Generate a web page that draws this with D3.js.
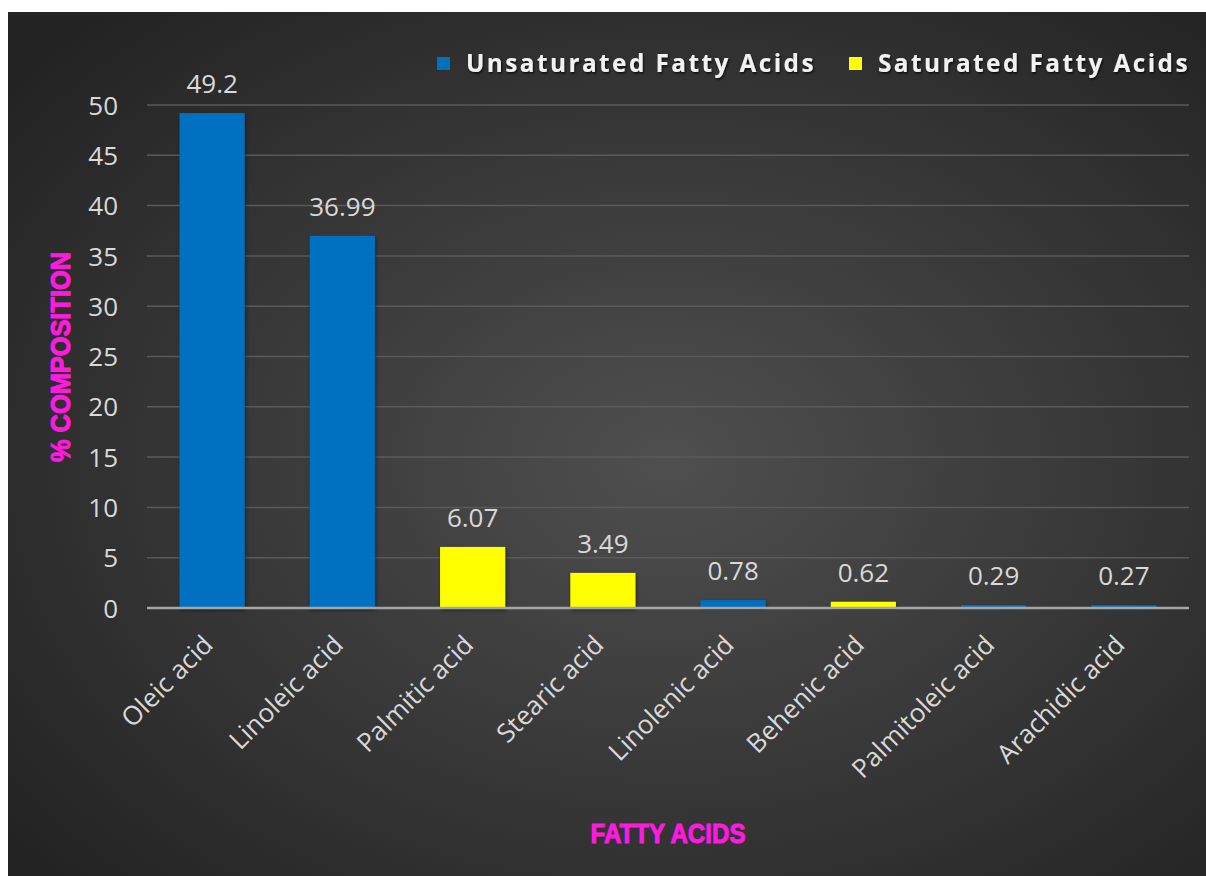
<!DOCTYPE html>
<html>
<head>
<meta charset="utf-8">
<script src="https://cdn.jsdelivr.net/npm/d3@7"></script>
<style>
  html, body { margin: 0; padding: 0; background: #ffffff; }
  svg { display: block; }
</style>
</head>
<body>
<div id="chart"></div>
<script>
// Fatty acid composition (% of total)
const categories = ["Oleic acid", "Linoleic acid", "Palmitic acid", "Stearic acid",
                    "Linolenic acid", "Behenic acid", "Palmitoleic acid", "Arachidic acid"];
const values = [49.2, 36.99, 6.07, 3.49, 0.78, 0.62, 0.29, 0.27];
const groups = ["Unsaturated", "Unsaturated", "Saturated", "Saturated",
                "Unsaturated", "Saturated", "Unsaturated", "Unsaturated"];
const seriesNames = ["Unsaturated", "Saturated"];
const legendLabels = ["Unsaturated Fatty Acids", "Saturated Fatty Acids"];
const yTicks = [0, 5, 10, 15, 20, 25, 30, 35, 40, 45, 50];

const W = 1206, H = 876;
const plot = { left: 147, right: 1189, top: 105, bottom: 608 };
const FONT = "'Open Sans', sans-serif";

const svg = d3.select("#chart").append("svg")
  .attr("width", W).attr("height", H);

const defs = svg.append("defs");
const bg = defs.append("radialGradient").attr("id", "bgGrad")
  .attr("cx", "55%").attr("cy", "52%").attr("r", "70%");
bg.append("stop").attr("offset", "0%").attr("stop-color", "#4f4f4f");
bg.append("stop").attr("offset", "100%").attr("stop-color", "#232323");

const shadow = defs.append("filter").attr("id", "barShadow")
  .attr("x", "-20%").attr("y", "-20%").attr("width", "140%").attr("height", "140%");
shadow.append("feDropShadow").attr("dx", 1).attr("dy", 2).attr("stdDeviation", 2)
  .attr("flood-color", "#000").attr("flood-opacity", 0.45);

const txtShadow = defs.append("filter").attr("id", "textShadow")
  .attr("x", "-10%").attr("y", "-30%").attr("width", "120%").attr("height", "160%");
txtShadow.append("feDropShadow").attr("dx", 1).attr("dy", 1.5).attr("stdDeviation", 1.2)
  .attr("flood-color", "#000").attr("flood-opacity", 0.8);

// chart area
svg.append("rect").attr("x", 8).attr("y", 12)
  .attr("width", W - 8).attr("height", H - 12)
  .attr("fill", "url(#bgGrad)");

const x = d3.scaleBand().domain(categories)
  .range([plot.left, plot.right]).paddingInner(0.5).paddingOuter(0.25);
const y = d3.scaleLinear().domain([0, 50]).range([plot.bottom, plot.top]);
const color = d3.scaleOrdinal().domain(seriesNames).range(["#0070c0", "#ffff00"]);

// gridlines
svg.append("g").selectAll("line").data(yTicks.filter(t => t > 0)).join("line")
  .attr("x1", plot.left).attr("x2", plot.right)
  .attr("y1", d => y(d)).attr("y2", d => y(d))
  .attr("stroke", "#5a5a5a").attr("stroke-width", 1.5);

// y axis tick labels
const yAxis = d3.axisLeft(y).tickValues(yTicks).tickSize(0).tickPadding(0);
const yg = svg.append("g").attr("transform", `translate(118,0)`).call(yAxis);
yg.select(".domain").remove();
yg.selectAll("text")
  .attr("font-family", FONT)
  .attr("font-size", 26).attr("fill", "#d9d9d9").attr("dy", "0.35em");

// bars
svg.append("g").selectAll("rect").data(categories).join("rect")
  .attr("x", d => x(d))
  .attr("y", (d, i) => y(values[i]))
  .attr("width", x.bandwidth())
  .attr("height", (d, i) => y(0) - y(values[i]))
  .attr("fill", (d, i) => color(groups[i]))
  .attr("filter", "url(#barShadow)");

// baseline axis
svg.append("line")
  .attr("x1", plot.left).attr("x2", plot.right)
  .attr("y1", y(0)).attr("y2", y(0))
  .attr("stroke", "#a6a6a6").attr("stroke-width", 2.5);

// value labels
svg.append("g").selectAll("text").data(categories).join("text")
  .attr("x", d => x(d) + x.bandwidth() / 2)
  .attr("y", (d, i) => y(values[i]) - 20)
  .attr("text-anchor", "middle")
  .attr("font-family", FONT)
  .attr("font-size", 26).attr("fill", "#d9d9d9")
  .text((d, i) => values[i]);

// category labels
const xAxis = d3.axisBottom(x).tickSize(0).tickPadding(0);
const xg = svg.append("g").attr("transform", `translate(0,${y(0)})`).call(xAxis);
xg.select(".domain").remove();
xg.selectAll("text")
  .attr("font-family", FONT)
  .attr("font-size", 26).attr("fill", "#d9d9d9")
  .attr("text-anchor", "end")
  .attr("transform", "translate(-4,32) rotate(-45)")
  .attr("dy", "0.35em").attr("y", 0);

// axis titles
const titleStyle = sel => sel
  .attr("text-anchor", "middle")
  .attr("font-family", "'Liberation Sans', sans-serif")
  .attr("font-weight", "bold").attr("font-size", 28)
  .attr("fill", "#ff1ae0")
  .attr("stroke", "#ff1ae0").attr("stroke-width", 1)
  .attr("lengthAdjust", "spacingAndGlyphs");

svg.append("text")
  .attr("transform", "translate(70,357) rotate(-90)")
  .call(titleStyle)
  .attr("textLength", 210)
  .text("% COMPOSITION");

svg.append("text")
  .attr("x", 668).attr("y", 843)
  .call(titleStyle)
  .attr("textLength", 155)
  .text("FATTY ACIDS");

// legend
const legendX = [437, 849];
const legendW = [350, 312];
const lg = svg.append("g").selectAll("g").data(seriesNames).join("g")
  .attr("transform", (d, i) => `translate(${legendX[i]},57)`);
lg.append("rect").attr("width", 13).attr("height", 13)
  .attr("fill", d => color(d));
lg.append("text")
  .attr("x", 29).attr("y", 15)
  .attr("font-family", FONT)
  .attr("font-weight", "bold").attr("font-size", 25)
  .attr("letter-spacing", 2.5)
  .attr("fill", "#f2f2f2")
  .attr("filter", "url(#textShadow)")
  .attr("textLength", (d, i) => legendW[i]).attr("lengthAdjust", "spacingAndGlyphs")
  .text((d, i) => legendLabels[i]);
</script>
</body>
</html>
